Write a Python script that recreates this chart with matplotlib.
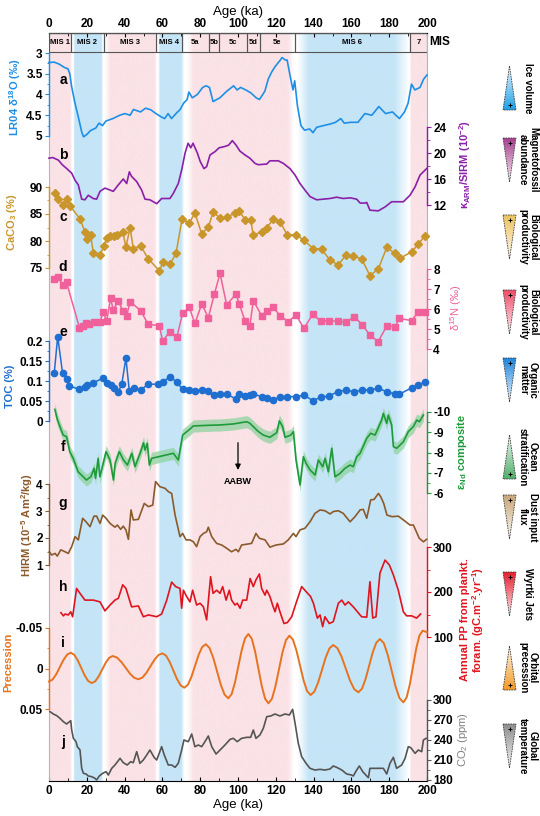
import numpy as np
import matplotlib
matplotlib.use('Agg')
import matplotlib.pyplot as plt
from matplotlib.patches import Rectangle, Polygon
from matplotlib.ticker import FixedLocator, FuncFormatter
import matplotlib.transforms as mtransforms

plt.rcParams['font.family'] = ['Liberation Sans', 'DejaVu Sans']
plt.rcParams['font.weight'] = 'bold'
plt.rcParams['mathtext.default'] = 'regular'

# ---------------- data ----------------
age_a = [0, 2.7, 5.5, 8.2, 10, 11, 11.9, 13.7, 15.5, 17.4, 18.3, 20.1, 21.9, 24.7, 26.5, 28.3, 30.1, 33.8, 37.4, 40.2,
         42.9, 44.7, 48.4, 51.1, 53.9, 56.6, 59.4, 61.2, 63, 64.8, 67.6, 69.4, 71.2, 73.1, 74, 75.8, 78.5, 81.3, 83.1, 84.9,
         86.8, 90.4, 94.1, 97.7, 99.5, 101.4, 104.1, 106.8, 109.6, 111.4, 114.2, 116, 117.8, 119.6, 122.4, 123.3, 125.1, 126,
         127.9, 129.1, 130, 131.5, 133.3, 135.2, 137.9, 139.7, 141.6, 145.2, 148.9, 151.6, 154.4, 156.2, 159.8, 163.5, 167.1,
         170.8, 174.5, 178.1, 181.7, 185.4, 188.1, 190, 191.8, 193.6, 196.3, 198.2, 200]
d18o = [3.23, 3.22, 3.27, 3.35, 3.38, 3.5, 3.79, 4.2, 4.54, 4.92, 5.02, 4.96, 4.87, 4.81, 4.69, 4.75, 4.64, 4.58, 4.5, 4.46,
        4.5, 4.36, 4.42, 4.33, 4.37, 4.46, 4.54, 4.58, 4.46, 4.58, 4.44, 4.36, 4.21, 4.12, 3.94, 4.08, 4.0, 3.83, 3.79, 3.83,
        4.17, 4.08, 3.92, 3.79, 3.89, 3.83, 3.89, 3.96, 4.08, 4.12, 3.92, 3.63, 3.46, 3.33, 3.17, 3.11, 3.17, 3.17,
        3.63, 3.89, 3.67, 4.29, 4.75, 4.86, 4.83, 4.92, 4.79, 4.75, 4.71, 4.67, 4.58, 4.69, 4.67, 4.67, 4.46,
        4.5, 4.29, 4.46, 4.42, 4.58, 4.42, 4.21, 3.75, 3.89, 3.83, 3.63, 3.53]

age_b = [0, 2, 5, 7, 9.4, 12, 13.8, 15.5, 17.3, 19, 20.8, 23.4, 25.2, 27, 29.6, 31.4, 34, 36.7, 39.3, 41.1, 42.5, 43.7,
         46.4, 49, 50.8, 53.4, 57, 59.6, 64, 65.8, 68.4, 70.2, 72, 73.6, 75, 76.2, 78.5, 80, 82, 83.4, 85.2, 87.8, 90, 93,
         95, 97, 99, 101, 103.7, 106.3, 109, 110.7, 115.2, 116.9, 121.3, 124, 127.5, 130.2, 132.8, 135.4, 138.1, 141.6,
         145.1, 148.7, 152.2, 155.7, 159.3, 162.8, 164.6, 167.2, 168.1, 169.8, 174.2, 177.8, 181.3, 187.5, 191, 193.7,
         196.3, 199.8]
kappa = [19.2, 19.3, 18.9, 18.2, 17.6, 16.9, 15.8, 15.1, 12.9, 12.8, 13.5, 13.0, 12.9, 14.1, 14.6, 14.4, 14.1, 15.1, 16.0,
         15.3, 17.1, 16.4, 15.6, 14.3, 12.9, 12.8, 12.2, 13.0, 13.0, 13.8, 15.3, 17.4, 20.0, 21.5, 20.8, 21.5, 20.0, 18.7,
         17.6, 17.9, 19.7, 20.2, 20.8, 21.0, 21.2, 21.9, 21.2, 20.3, 19.7, 19.2, 18.4, 18.2, 18.3, 18.8, 18.8, 18.4, 17.6,
         16.6, 15.3, 14.3, 13.3, 12.8, 12.9, 13.0, 13.2, 13.0, 13.1, 12.9, 12.3, 12.3, 12.4, 11.2, 11.1, 11.7, 12.5, 12.5,
         13.5, 14.8, 16.6, 17.6]

age_c = [3.2, 4.9, 7.6, 9.3, 11.1, 16.4, 19.0, 20.3, 22.0, 23.5, 27.0, 29.1, 30.5, 32.3, 34.4, 36.1, 39.0, 40.7, 42.9,
         44.6, 48.5, 52.5, 58.4, 60.5, 64.0, 67.2, 70.4, 74.2, 77.2, 80.8, 84.3, 86.9, 90.5, 94.0, 98.4, 100.7, 103.7,
         106.7, 108.1, 112.5, 115.2, 118.7, 122.2, 126.1, 130.7, 134.9, 139.8, 144.3, 148.7, 153.1, 157.1, 161.0, 165.4,
         169.8, 174.2, 178.7, 183.1, 185.7, 191.9, 195.4, 198.9]
caco3 = [88.8, 87.7, 86.7, 87.8, 86.5, 84.1, 81.7, 80.3, 81.1, 77.7, 77.4, 79.1, 80.5, 80.9, 80.9, 81.1, 81.7, 78.9, 82.5,
         78.6, 79.1, 76.7, 74.5, 76.2, 75.7, 77.7, 84.1, 83.3, 85.2, 81.3, 82.6, 85.4, 84.2, 84.4, 85.2, 85.6, 83.9, 83.9,
         81.1, 81.7, 82.5, 84.0, 83.6, 81.1, 81.2, 80.1, 78.6, 78.5, 76.4, 75.6, 77.4, 77.2, 76.7, 73.6, 74.8, 78.8, 77.7,
         76.8, 78.0, 79.4, 81.0]

age_d = [2.8, 4.6, 7.2, 9.3, 16.1, 18.2, 19.6, 21.3, 24.0, 27.0, 28.7, 30.5, 32.6, 34.0, 36.7, 39.0, 41.1, 42.9, 48.5,
         52.5, 58.4, 60.1, 64.0, 67.6, 70.7, 74.2, 77.2, 80.8, 84.3, 87.5, 90.5, 94.0, 98.9, 100.7, 103.7, 106.3, 108.1,
         112.5, 115.2, 118.7, 122.2, 126.6, 130.7, 134.9, 139.5, 143.7, 148.3, 152.7, 157.1, 161.6, 165.8, 169.8, 174.2,
         178.7, 183.1, 185.4, 191.9, 195.4, 198.9]
d15n = [7.48, 7.62, 7.2, 7.33, 5.07, 5.17, 5.32, 5.25, 5.37, 5.37, 5.83, 5.4, 6.53, 5.95, 6.42, 5.9, 5.67, 6.37, 5.92,
        5.23, 5.17, 4.4, 4.87, 4.58, 5.78, 6.08, 5.28, 6.25, 5.57, 6.75, 7.78, 6.2, 6.75, 6.25, 5.4, 5.17, 6.42, 5.67,
        5.92, 6.08, 5.67, 5.37, 5.7, 5.03, 5.73, 5.4, 5.42, 5.38, 5.33, 5.62, 5.2, 4.7, 4.37, 5.15, 5.12, 5.53, 5.42,
        5.87, 5.83]

age_e = [2.8, 4.6, 7.2, 9.3, 10.7, 16.1, 19.0, 20.3, 23.5, 28.7, 30.9, 32.6, 34.4, 36.7, 38.5, 40.7, 42.5, 45.0, 48.5,
         52.5, 57.7, 60.1, 64.0, 67.6, 70.7, 74.2, 77.2, 80.8, 84.3, 87.5, 90.5, 94.0, 98.9, 100.7, 103.7, 106.3, 108.1,
         112.5, 115.2, 118.7, 122.2, 126.1, 130.7, 134.9, 139.5, 143.7, 148.3, 152.7, 157.1, 161.6, 165.8, 169.8, 174.2,
         178.7, 183.1, 185.4, 191.9, 195.4, 198.9]
toc = [0.121, 0.211, 0.119, 0.104, 0.088, 0.079, 0.086, 0.09, 0.096, 0.107, 0.094, 0.09, 0.082, 0.073, 0.0925, 0.157,
       0.075, 0.083, 0.0775, 0.092, 0.092, 0.097, 0.111, 0.097, 0.079, 0.0775, 0.075, 0.0775, 0.075, 0.065, 0.067,
       0.0675, 0.055, 0.0675, 0.063, 0.065, 0.0675, 0.061, 0.057, 0.0525, 0.061, 0.061, 0.061, 0.065, 0.051, 0.059,
       0.063, 0.073, 0.0775, 0.073, 0.0775, 0.0775, 0.082, 0.073, 0.0675, 0.067, 0.083, 0.09, 0.097]

age_f = [3.1, 4.5, 7.5, 9.3, 11.0, 12.8, 15.4, 18.1, 19.8, 22.1, 23.9, 24.6, 26.0, 26.9, 30.2, 32.3, 34.1, 35.0, 37.2,
         39.4, 41.5, 43.8, 45.5, 48.2, 50.0, 50.8, 52.0, 53.1, 54.3, 57.9, 65.8, 68.4, 70.7, 75.0, 76.3, 83.4, 90.5, 97.5,
         104.6, 106.3, 110.8, 113.4, 116.9, 120.5, 121.9, 123.6, 124.9, 127.9, 129.3, 130.7, 132.8, 134.6, 136.0, 138.1,
         140.8, 142.5, 144.8, 146.1, 147.8, 149.6, 151.3, 154.0, 156.6, 159.3, 161.0, 162.8, 164.6, 168.1, 170.2, 172.5,
         176.0, 176.9, 178.7, 179.5, 181.3, 182.2, 184.0, 187.5, 190.1, 192.8, 194.6, 196.0, 198.1]
eps_nd = [-10.13, -9.6, -8.86, -8.78, -8.04, -7.71, -7.05, -6.8, -6.64, -6.8, -7.22, -6.72, -7.71, -6.8, -8.04, -7.63,
          -6.64, -7.47, -8.04, -7.63, -7.38, -7.96, -7.3, -7.96, -8.48, -8.12, -8.45, -7.38, -7.71, -7.79, -7.96, -7.63,
          -8.86, -9.19, -9.31, -9.34, -9.36, -9.41, -9.52, -9.44, -9.03, -8.86, -8.75, -8.98, -9.56, -9.28, -8.75, -8.86,
          -9.03, -7.63, -6.4, -7.79, -7.47, -7.14, -6.89, -7.63, -7.3, -7.71, -7.05, -8.21, -6.8, -6.97, -7.22, -7.38,
          -7.3, -7.79, -7.96, -8.7, -8.95, -8.86, -9.6, -9.93, -9.44, -9.85, -9.36, -8.29, -8.21, -8.53, -9.03, -9.28,
          -9.6, -9.52, -9.85]
nd_err = 0.3

age_g = [0.2, 1.4, 3.2, 4.4, 6.2, 7.6, 10.2, 12.0, 13.8, 15.5, 17.8, 19.6, 21.7, 23.8, 25.2, 27.0, 28.4, 30.2, 32.3,
         34.9, 36.2, 37.9, 39.3, 40.7, 42.0, 43.4, 44.6, 47.3, 50.4, 52.6, 54.9, 55.6, 56.4, 58.7, 61.4, 63.1, 64.9, 66.7,
         69.3, 70.7, 72.5, 74.6, 76.4, 78.1, 79.9, 81.7, 83.4, 84.3, 86.1, 88.7, 91.4, 94.0, 96.6, 98.9, 100.2, 101.9,
         104.6, 107.2, 109.5, 111.3, 114.3, 116.9, 120.1, 124.0, 126.6, 129.3, 130.7, 132.8, 135.4, 138.1, 140.7, 143.4,
         146.0, 148.7, 150.4, 153.1, 155.7, 159.3, 161.9, 164.6, 166.3, 168.1, 170.2, 172.0, 174.3, 175.5, 177.1, 178.8,
         181.5, 184.8, 187.5, 191.0, 192.8, 195.9, 198.1, 199.8]
hirm = [1.49, 1.37, 1.43, 1.33, 1.56, 1.52, 1.43, 1.68, 2.05, 1.93, 2.73, 2.6, 2.42, 2.81, 2.81, 2.54, 2.85, 2.73, 2.54,
        2.4, 2.48, 2.32, 2.44, 2.3, 1.95, 3.04, 2.67, 2.69, 3.28, 3.16, 3.22, 3.65, 4.09, 3.9, 3.84, 3.72, 3.65, 2.85,
        2.05, 2.17, 1.93, 1.93, 1.86, 1.68, 2.05, 2.17, 2.23, 2.4, 2.05, 1.8, 1.74, 1.62, 1.49, 1.58, 1.49, 1.74, 1.77,
        1.8, 2.17, 1.99, 1.93, 1.66, 1.74, 1.78, 1.93, 2.17, 2.05, 2.3, 2.36, 2.6, 2.91, 3.04, 3.01, 2.89, 2.98, 3.01,
        2.91, 2.6, 2.79, 3.04, 3.06, 2.73, 3.41, 3.43, 3.65, 3.53, 3.28, 2.85, 2.79, 2.81, 2.67, 2.48, 2.48, 1.99, 1.86,
        1.95]

age_h = [6.3, 7.6, 8.5, 10.2, 11.5, 12.5, 14.6, 16.4, 19.0, 20.8, 23.5, 27.0, 29.6, 32.3, 34.9, 36.7, 39.0, 40.7, 43.7,
         47.3, 49.9, 52.6, 54.9, 57.0, 59.6, 62.3, 64.9, 67.0, 69.3, 70.2, 71.1, 72.8, 74.6, 76.0, 78.1, 79.9, 81.7, 83.4,
         85.5, 86.8, 88.7, 90.5, 91.9, 93.7, 95.4, 96.6, 98.4, 99.6, 101.1, 102.5, 104.6, 106.4, 108.1, 109.5, 111.3,
         112.5, 114.3, 115.2, 116.9, 118.3, 119.6, 120.8, 122.2, 124.3, 126.1, 128.4, 130.7, 133.7, 136.0, 138.4, 139.9,
         142.0, 143.4, 144.8, 146.0, 148.3, 150.4, 153.1, 154.9, 156.6, 158.4, 161.0, 165.4, 168.1, 169.8, 171.3, 173.0,
         175.1, 177.8, 180.1, 182.2, 184.8, 187.5, 189.2, 191.9, 194.5, 196.6]
pp = [154, 147, 151, 149, 156, 145, 208, 197, 182, 182, 182, 178, 158, 171, 182, 186, 216, 208, 167, 169, 145, 149, 147,
      145, 151, 182, 222, 212, 208, 164, 204, 190, 178, 204, 171, 175, 167, 138, 234, 197, 204, 197, 212, 182, 204, 182,
      171, 175, 164, 182, 182, 230, 212, 227, 240, 208, 193, 204, 190, 171, 156, 175, 156, 130, 132, 145, 175, 212, 201,
      190, 175, 142, 149, 123, 145, 130, 134, 175, 182, 171, 178, 167, 145, 144, 223, 142, 145, 242, 271, 260, 238, 204,
      156, 147, 147, 142, 151]

age_i = [0, 1.92, 3.83, 5.75, 7.67, 9.58, 11.5, 13.35, 15.2, 17.05, 18.9, 20.75, 22.6, 24.45, 26.3, 28.15, 30.0, 31.85,
         33.7, 35.97, 38.23, 40.5, 42.77, 45.03, 47.3, 49.42, 51.53, 53.65, 55.77, 57.88, 60.0, 61.93, 63.87, 65.8, 67.73,
         69.67, 71.6, 73.48, 75.37, 77.25, 79.13, 81.02, 82.9, 84.9, 86.9, 88.9, 90.9, 92.9, 94.9, 96.67, 98.43, 100.2,
         101.97, 103.73, 105.5, 107.27, 109.03, 110.8, 112.57, 114.33, 116.1, 117.95, 119.8, 121.65, 123.5, 125.35, 127.2,
         129.07, 130.93, 132.8, 134.67, 136.53, 138.4, 140.4, 142.4, 144.4, 146.4, 148.4, 150.4, 152.62, 154.83, 157.05,
         159.27, 161.48, 163.7, 165.6, 167.5, 169.4, 171.3, 173.2, 175.1, 177.17, 179.23, 181.3, 183.37, 185.43, 187.5,
         189.2, 190.9, 192.6, 194.3, 196.0, 197.7, 200]
prec = [0.016, 0.0136, 0.0071, -0.0018, -0.0106, -0.0171, -0.0195, -0.017, -0.0101, -0.0008, 0.0086, 0.0155, 0.018,
        0.0158, 0.0096, 0.0013, -0.0071, -0.0132, -0.0154, -0.0135, -0.0082, -0.0011, 0.0061, 0.0114, 0.0133, 0.0112,
        0.0053, -0.0027, -0.0107, -0.0166, -0.0187, -0.0159, -0.0081, 0.0025, 0.0131, 0.0209, 0.0237, 0.0201, 0.0103,
        -0.0032, -0.0166, -0.0264, -0.030, -0.0255, -0.0133, 0.0034, 0.0201, 0.0323, 0.0368, 0.0315, 0.0169, -0.0029,
        -0.0228, -0.0373, -0.0426, -0.0369, -0.0212, 0.0002, 0.0216, 0.0373, 0.043, 0.0374, 0.0221, 0.0013, -0.0196,
        -0.0349, -0.0405, -0.0356, -0.0222, -0.0039, 0.0144, 0.0278, 0.0327, 0.0286, 0.0173, 0.0019, -0.0136, -0.0249,
        -0.029, -0.0251, -0.0144, 0.0002, 0.0148, 0.0255, 0.0294, 0.025, 0.0129, -0.0035, -0.02, -0.032, -0.0364,
        -0.0312, -0.0168, 0.0027, 0.0223, 0.0366, 0.0418, 0.0359, 0.0197, -0.0025, -0.0246, -0.0408, -0.0467, -0.0448]

age_j = [0.5, 2.3, 4.1, 5.8, 7.6, 9.3, 10.2, 11.5, 12.0, 12.9, 14.3, 15.0, 16.4, 17.3, 18.2, 19.6, 20.8, 22.6, 24.3, 25.2,
         26.6, 28.4, 30.2, 31.4, 33.2, 34.9, 37.6, 39.3, 41.4, 43.2, 44.6, 46.4, 48.1, 49.9, 51.7, 53.4, 55.6, 57.0, 59.6,
         61.0, 63.1, 64.9, 66.7, 68.4, 70.2, 71.4, 73.7, 75.5, 77.2, 79.0, 80.8, 82.5, 84.3, 86.1, 88.4, 90.5, 93.1, 95.8,
         97.5, 99.6, 101.9, 104.6, 106.7, 108.1, 109.5, 111.6, 113.4, 115.2, 117.3, 119.6, 122.2, 124.9, 127.2, 128.9,
         130.2, 131.9, 133.7, 136.0, 138.1, 140.7, 143.4, 146.0, 148.7, 150.4, 152.2, 154.9, 157.5, 160.1, 161.0, 162.8,
         164.2, 166.0, 168.1, 169.0, 169.8, 173.4, 176.9, 178.7, 180.4, 182.2, 183.9, 186.6, 188.4, 190.1, 191.4, 193.7,
         195.4, 197.2, 198.1, 199.5]
co2 = [282.5, 279, 276.5, 272.5, 267.5, 264, 266, 269, 255, 242.5, 237.5, 230, 225, 197.5, 190, 189, 186, 185, 182.5,
       180, 186, 190, 192.5, 187.5, 197.5, 202.5, 212.5, 206, 202.5, 207.5, 206, 222.5, 205, 210, 217.5, 225, 214, 210,
       230, 217.5, 202.5, 202.5, 199, 205, 225, 240, 237.5, 249, 230, 232.5, 230, 237.5, 246, 230, 219, 225, 232.5, 241,
       242.5, 237.5, 242.5, 244, 244, 255, 242.5, 247.5, 257.5, 275, 276, 279, 276, 279, 277.5, 286, 265, 235, 215, 205,
       197.5, 195, 196, 195, 196.5, 201, 199, 195, 189, 187.5, 186, 195, 201, 192.5, 186, 183.5, 197.5, 197.5, 197.5,
       189, 205, 214, 197.5, 202.5, 212.5, 230, 228.5, 220, 225, 222.5, 240, 242.5]

mis_names = ['MIS 1', 'MIS 2', 'MIS 3', 'MIS 4', '5a', '5b', '5c', '5d', '5e', 'MIS 6', '7']
mis_start = [0, 11.5, 29.2, 56.6, 70.3, 84.4, 89.9, 104.7, 111.4, 130, 190.9]
mis_end = [11.5, 29.2, 56.6, 70.3, 84.4, 89.9, 104.7, 111.4, 130, 190.9, 200]

age_ticks = [0, 20, 40, 60, 80, 100, 120, 140, 160, 180, 200]

tri_labels = ['Ice volume', 'Magnetofossil\nabundance', 'Biological\nproductivity', 'Biological\nproductivity',
              'Organic\nmatter', 'Ocean\nstratification', 'Dust input\nflux', 'Wyrtki Jets', 'Orbital\nprecession',
              'Global\ntemperature']
tri_colors = ['#1E9FE8', '#A8408F', '#EDC25E', '#EF4D6A', '#1F86DD', '#4FAF6A', '#C9A878', '#E5202E', '#F59A23', '#8E8E8E']
tri_wide = ['bottom', 'top', 'top', 'top', 'top', 'bottom', 'top', 'top', 'bottom', 'top']
tri_y = [88, 160, 237, 312, 380, 457, 517, 594, 668, 746]

# ---------------- layout (pixels) ----------------
W, H = 540, 816
X0, X1 = 49, 427
TOP, BOT = 33, 781
STRIP = 52


def fx(x):
    return x / W


def fy(y):
    return 1 - y / H


fig = plt.figure(figsize=(W / 100, H / 100), dpi=100)

ax0 = fig.add_axes([fx(X0), fy(BOT), (X1 - X0) / W, (BOT - TOP) / H])
ax0.set_xlim(0, 200)
ax0.set_ylim(0, 1)

# shaded glacial / interglacial background
pink = (250, 226, 230)
blue = (197, 229, 247)
white = (255, 255, 255)
stops = [(0, pink), (11.2, pink), (12.2, white), (13.0, white), (13.4, blue), (27.8, blue), (28.4, white),
         (29.5, white), (32.5, pink), (56.0, pink), (57.0, white), (58.0, white), (58.6, blue), (70.0, blue),
         (71.5, white), (73.0, white), (76.5, pink), (126.5, pink), (129.5, white), (131.5, white), (137.5, blue),
         (183.0, blue), (190.5, white), (191.2, white), (191.5, pink), (200, pink)]
sa = [s[0] for s in stops]
grid = np.linspace(0, 200, 1601)
bg = np.zeros((1, grid.size, 3))
for ch in range(3):
    bg[0, :, ch] = np.interp(grid, sa, [s[1][ch] / 255 for s in stops])
ax0.imshow(bg, extent=(0, 200, 0, 1), aspect='auto', interpolation='bilinear', zorder=0)

# MIS strip
strip_h = (STRIP - TOP) / (BOT - TOP)
trans = mtransforms.blended_transform_factory(ax0.transData, ax0.transAxes)
for name, s, e in zip(mis_names, mis_start, mis_end):
    ax0.add_patch(Rectangle((s, 1 - strip_h), e - s, strip_h, transform=trans, fc='none', ec='#555555', lw=0.8,
                            zorder=3))
    ax0.text((s + e) / 2, 1 - strip_h / 2, name, transform=trans, ha='center', va='center', fontsize=5.5, zorder=4)
fig.text(fx(440), fy(42), 'MIS', ha='center', va='center', fontsize=8.5)

for side in ['left', 'right']:
    ax0.spines[side].set_color('#b5b5b5')
    ax0.spines[side].set_linewidth(0.8)
ax0.set_yticks([])
ax0.set_xticks(age_ticks)
ax0.set_xticks(np.arange(10, 200, 20), minor=True)
ax0.tick_params(axis='x', which='both', direction='in', labelsize=8.5, pad=3)
ax0.tick_params(axis='x', which='major', length=3)
ax0.tick_params(axis='x', which='minor', length=2)
ax0.set_xlabel('Age (ka)', fontsize=9.5, labelpad=1)
sec = ax0.secondary_xaxis('top')
sec.set_xticks(age_ticks)
sec.set_xticks(np.arange(10, 200, 20), minor=True)
sec.tick_params(axis='x', which='both', direction='in', labelsize=8.5, pad=2)
sec.tick_params(axis='x', which='major', length=3)
sec.tick_params(axis='x', which='minor', length=2)
sec.set_xlabel('Age (ka)', fontsize=9.5, labelpad=2)


def panel(span, ref, side, color, ticks, minor):
    (p1, v1), (p2, v2) = ref
    k = (v2 - v1) / (p2 - p1)
    ytop = v1 + (span[0] - p1) * k
    ybot = v1 + (span[1] - p1) * k
    ax = fig.add_axes([fx(X0), fy(span[1]), (X1 - X0) / W, (span[1] - span[0]) / H])
    ax.patch.set_alpha(0)
    ax.set_xlim(0, 200)
    ax.set_ylim(ybot, ytop)
    for s in ax.spines.values():
        s.set_visible(False)
    sp = ax.spines[side]
    sp.set_visible(True)
    sp.set_color(color)
    sp.set_linewidth(1.0)
    lo, hi = min(ticks), max(ticks)
    sp.set_bounds(lo, hi)
    ax.set_xticks([])
    ax.yaxis.set_ticks_position(side)
    ax.set_yticks(ticks)
    ax.yaxis.set_minor_locator(FixedLocator(np.arange(lo, hi + minor / 2, minor)))
    ax.yaxis.set_major_formatter(FuncFormatter(lambda v, p: '%g' % round(v, 4)))
    ax.tick_params(axis='y', which='both', colors=color, labelcolor='black', direction='out', labelsize=8.5, pad=1.5)
    ax.tick_params(axis='y', which='major', length=3)
    ax.tick_params(axis='y', which='minor', length=1.8)
    return ax


c_a, c_b, c_c, c_d = '#1E8FE6', '#8A1FA8', '#C9962C', '#F0609A'
c_e, c_f, c_g, c_h = '#1F6FD0', '#1E9A3A', '#8B5A2B', '#E0141E'
c_i, c_j = '#E8731E', '#555555'

ax_a = panel((45, 150), ((53, 3), (136, 5)), 'left', c_a, [3, 3.5, 4, 4.5, 5], 0.25)
ax_a.plot(age_a, d18o, color=c_a, lw=1.2, clip_on=False)

ax_b = panel((110, 215), ((127, 24), (205, 12)), 'right', c_b, [12, 16, 20, 24], 2)
ax_b.plot(age_b, kappa, color=c_b, lw=1.2, clip_on=False)

ax_c = panel((170, 285), ((187, 90), (268, 75)), 'left', c_c, [75, 80, 85, 90], 2.5)
ax_c.plot(age_c, caco3, color=c_c, lw=1.1, marker='D', ms=3.8, clip_on=False)

ax_d = panel((255, 360), ((269, 8), (349, 4)), 'right', c_d, [4, 5, 6, 7, 8], 0.5)
ax_d.plot(age_d, d15n, color=c_d, lw=1.1, marker='s', ms=4, clip_on=False)

ax_e = panel((330, 430), ((341, 0.2), (421, 0)), 'left', c_e, [0, 0.05, 0.1, 0.15, 0.2], 0.025)
ax_e.plot(age_e, toc, color=c_e, lw=1.1, marker='o', ms=4.5, clip_on=False)

ax_f = panel((400, 500), ((412, -10), (493, -6)), 'right', c_f, [-10, -9, -8, -7, -6], 0.5)
nd = np.array(eps_nd)
ax_f.fill_between(age_f, nd - nd_err, nd + nd_err, color='#8fd3a0', alpha=0.75, lw=0)
ax_f.plot(age_f, eps_nd, color=c_f, lw=1.2, clip_on=False)
ax_f.annotate('', xy=(100, -7.0), xytext=(100, -8.62),
              arrowprops=dict(arrowstyle='-|>', color='black', lw=0.9, mutation_scale=8))
ax_f.text(100, -6.55, 'AABW', ha='center', va='center', fontsize=6.5)

ax_g = panel((475, 575), ((484, 4), (565, 1)), 'left', c_g, [1, 2, 3, 4], 0.5)
ax_g.plot(age_g, hirm, color=c_g, lw=1.2, clip_on=False)

ax_h = panel((540, 645), ((547, 300), (637, 100)), 'right', c_h, [100, 200, 300], 50)
ax_h.plot(age_h, pp, color=c_h, lw=1.2, clip_on=False)

ax_i = panel((620, 715), ((628, -0.05), (709, 0.05)), 'left', c_i, [-0.05, 0, 0.05], 0.025)
ax_i.plot(age_i, prec, color=c_i, lw=1.4, clip_on=False, solid_joinstyle='round')

ax_j = panel((695, 781), ((700, 300), (780, 180)), 'right', c_j, [180, 210, 240, 270, 300], 15)
ax_j.plot(age_j, co2, color=c_j, lw=1.2, clip_on=False)

# axis titles
lab = dict(rotation=90, ha='center', va='center', fontsize=8)
fig.text(fx(15), fy(97), r'LR04 δ$^{18}$O (‰)', color=c_a, **lab)
fig.text(fx(12), fy(222), r'CaCO$_3$ (%)', color=c_c, **lab)
fig.text(fx(10), fy(386), 'TOC (%)', color=c_e, **lab)
fig.text(fx(27), fy(525), r'HIRM (10$^{-5}$ Am$^2$/kg)', color=c_g, **lab)
fig.text(fx(8), fy(662), 'Precession', color=c_i, **lab)
fig.text(fx(465), fy(165), r'κ$_{ARM}$/SIRM (10$^{-2}$)', color=c_b, **lab)
fig.text(fx(456), fy(308), r'δ$^{15}$N (‰)', color=c_d, fontweight='normal', **lab)
fig.text(fx(462), fy(452), r'ε$_{Nd}$ composite', color=c_f, **lab)
fig.text(fx(473), fy(620), 'Annual PP from plankt.\n' + r'foram. (gC.m$^{-2}$.yr$^{-1}$)', color=c_h,
         linespacing=1.1, **lab)
fig.text(fx(463), fy(740), r'CO$_2$ (ppm)', color='#808080', fontweight='normal', **lab)

# panel letters
for letter, yy in zip('abcdefghij', [80, 155, 217, 267, 332, 447, 503, 587, 643, 742]):
    fig.text(fx(63), fy(yy), letter, ha='center', va='center', fontsize=10)

# wedge legend on the right
ov = fig.add_axes([0, 0, 1, 1])
ov.set_axis_off()
ov.patch.set_alpha(0)
for label, yc, col, wide in zip(tri_labels, tri_y, tri_colors, tri_wide):
    xl, xr, h = 503, 516, 44
    yt, yb = yc - h / 2, yc + h / 2
    rgb = np.array(matplotlib.colors.to_rgb(col))
    t = np.linspace(0, 0.9, 60)[:, None]
    grad = rgb[None, :] * (1 - t) + t
    if wide == 'top':
        verts = [(xl, yt), (xr, yt), ((xl + xr) / 2, yb)]
        ypl = yt + 5
    else:
        verts = [((xl + xr) / 2, yt), (xr, yb), (xl, yb)]
        grad = grad[::-1]
        ypl = yb - 5
    poly = Polygon(verts, closed=True, fc='none', ec='#444444', ls=(0, (2, 1)), lw=0.6, zorder=3)
    ov.add_patch(poly)
    im = ov.imshow(grad[:, None, :], extent=(xl, xr, yb, yt), aspect='auto', interpolation='bilinear', zorder=2)
    im.set_clip_path(poly)
    ov.plot([(xl + xr) / 2], [ypl], marker='+', color='black', ms=3, mew=0.7, zorder=4)
    ov.text(528, yc, label, rotation=-90, ha='center', va='center', fontsize=7, linespacing=1.0,
            multialignment='center')
ov.set_xlim(0, W)
ov.set_ylim(H, 0)

fig.savefig('out.png', dpi=100)
